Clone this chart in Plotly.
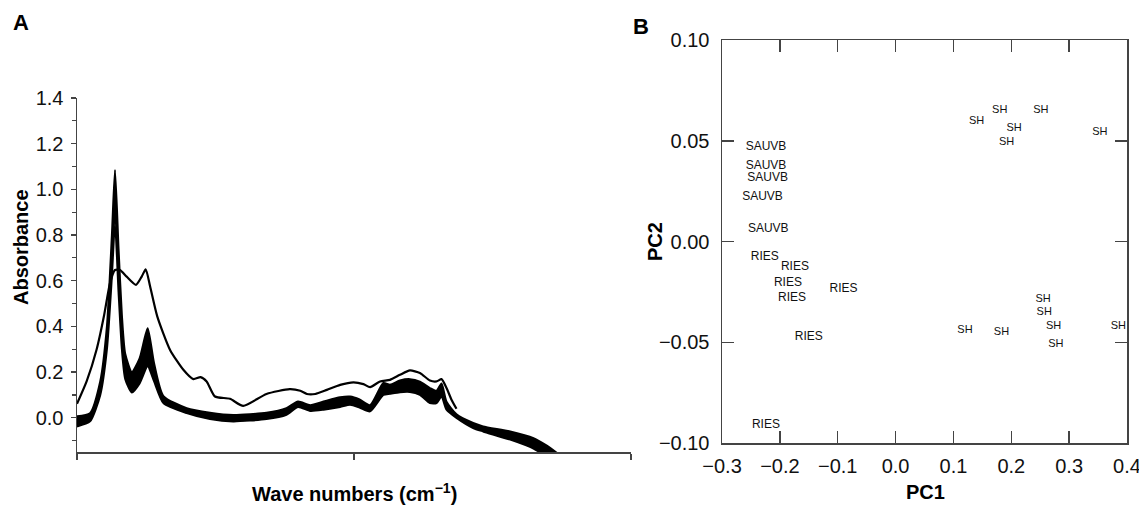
import plotly.graph_objects as go

# ---------------- Panel A data (relative wavenumber position 0-100) ----------------
band_x = [0, 2.35, 4.2, 5.4, 6.3, 6.86, 7.5, 8.1, 8.7, 9.9, 11.3, 12.75, 13.9, 15.6,
          19.8, 24, 28.2, 34.2, 37.8, 39.9, 42.1, 44.5, 47.5, 49.3, 51, 52.9, 55.3,
          56.5, 58.3, 60.1, 61.9, 63.7, 64.9, 65.8, 66.7, 68.5, 71.5, 73.3, 78.2,
          82.4, 84.8, 87.5]
band_upper = [0.006, 0.02, 0.16, 0.40, 0.80, 1.085, 0.74, 0.45, 0.28, 0.20, 0.26, 0.392,
              0.24, 0.095, 0.042, 0.022, 0.012, 0.022, 0.042, 0.071, 0.055, 0.071, 0.09,
              0.093, 0.08, 0.055, 0.152, 0.145, 0.163, 0.169, 0.158, 0.13, 0.118, 0.15,
              0.07, 0.015, -0.023, -0.038, -0.06, -0.089, -0.122, -0.17]
band_lower = [-0.038, -0.016, 0.10, 0.30, 0.62, 0.85, 0.55, 0.30, 0.17, 0.11, 0.15, 0.225,
              0.16, 0.064, 0.02, -0.006, -0.016, -0.006, 0.013, 0.047, 0.03, 0.035, 0.047,
              0.057, 0.045, 0.028, 0.10, 0.105, 0.112, 0.113, 0.10, 0.064, 0.064, 0.093,
              0.035, -0.001, -0.045, -0.06, -0.096, -0.135, -0.17, -0.2]

thin_x = [0, 1.75, 3.55, 4.9, 5.96, 6.86, 7.76, 8.97, 10.65, 11.68, 12.4, 13.2, 14.5,
          16.8, 19.2, 21, 22.3, 23.4, 24.9, 27.6, 30, 34.2, 38.4, 40.3, 41.5, 43, 45.1,
          47.5, 49.9, 51.7, 52.9, 54.7, 56.5, 58.3, 60.1, 61.9, 63.7, 64.9, 65.8, 66.7,
          67.6, 68.5]
thin_y = [0.061, 0.16, 0.30, 0.45, 0.59, 0.647, 0.647, 0.618, 0.582, 0.618, 0.650, 0.575,
          0.443, 0.297, 0.21, 0.169, 0.178, 0.159, 0.093, 0.083, 0.052, 0.104, 0.125,
          0.118, 0.104, 0.104, 0.122, 0.144, 0.155, 0.147, 0.134, 0.159, 0.166, 0.188,
          0.207, 0.196, 0.163, 0.159, 0.169, 0.13, 0.079, 0.039]

absorb_ticks = [0.0, 0.2, 0.4, 0.6, 0.8, 1.0, 1.2, 1.4]

# ---------------- Panel B data (PCA scores) ----------------
sauvb_pc1 = [-0.224, -0.224, -0.221, -0.230, -0.220]
sauvb_pc2 = [0.047, 0.0376, 0.0314, 0.0219, 0.0064]

ries_pc1 = [-0.226, -0.174, -0.186, -0.179, -0.090, -0.150, -0.224]
ries_pc2 = [-0.0078, -0.0125, -0.0208, -0.0279, -0.0234, -0.0472, -0.0911]

sh_pc1 = [0.140, 0.180, 0.205, 0.192, 0.251, 0.353,
          0.255, 0.257, 0.273, 0.277, 0.120, 0.183, 0.385]
sh_pc2 = [0.0598, 0.0649, 0.0562, 0.0495, 0.0649, 0.0543,
          -0.0285, -0.0351, -0.0419, -0.0510, -0.0439, -0.0448, -0.0419]

pc1_ticks = [-0.3, -0.2, -0.1, 0.0, 0.1, 0.2, 0.3, 0.4]
pc2_ticks = [-0.10, -0.05, 0.00, 0.05, 0.10]

W, H = 1139, 510
FONT = "Liberation Sans, Arial, sans-serif"
AX = "#444444"
TICKFONT = dict(size=20, color="#111")
TITLEFONT = dict(size=20, color="black")

fig = go.Figure()

# band (many overlapping spectra)
fig.add_trace(go.Scatter(x=band_x, y=band_lower, mode="lines",
                         line=dict(color="black", width=2, shape="spline", smoothing=0.6),
                         xaxis="x", yaxis="y", showlegend=False, hoverinfo="skip"))
fig.add_trace(go.Scatter(x=band_x, y=band_upper, mode="lines", fill="tonexty",
                         fillcolor="black",
                         line=dict(color="black", width=2, shape="spline", smoothing=0.6),
                         xaxis="x", yaxis="y", showlegend=False, hoverinfo="skip"))
# single spectrum
fig.add_trace(go.Scatter(x=thin_x, y=thin_y, mode="lines",
                         line=dict(color="black", width=2.2, shape="spline", smoothing=0.6),
                         xaxis="x", yaxis="y", showlegend=False, hoverinfo="skip"))

# PCA score labels
fig.add_trace(go.Scatter(x=sauvb_pc1, y=sauvb_pc2, mode="text", text=["SAUVB"] * len(sauvb_pc1),
                         textfont=dict(family=FONT, size=12, color="#111"),
                         xaxis="x2", yaxis="y2", showlegend=False))
fig.add_trace(go.Scatter(x=ries_pc1, y=ries_pc2, mode="text", text=["RIES"] * len(ries_pc1),
                         textfont=dict(family=FONT, size=12, color="#111"),
                         xaxis="x2", yaxis="y2", showlegend=False))
fig.add_trace(go.Scatter(x=sh_pc1, y=sh_pc2, mode="text", text=["SH"] * len(sh_pc1),
                         textfont=dict(family=FONT, size=11, color="#111"),
                         xaxis="x2", yaxis="y2", showlegend=False))

def px_x(p):
    return p / W

def px_y(p):
    return 1 - p / H

fig.update_layout(
    template="none",
    width=W, height=H, autosize=False,
    margin=dict(l=0, r=0, t=0, b=0, pad=0),
    paper_bgcolor="white", plot_bgcolor="white",
    font=dict(family=FONT, color="#111"),
    xaxis=dict(domain=[px_x(77), px_x(631)], range=[0, 100], automargin=False,
               tickvals=[0, 50, 100], showticklabels=False, ticks="outside", ticklen=6,
               tickcolor=AX, tickwidth=1.5,
               showline=True, linecolor=AX, linewidth=1.5, showgrid=False, zeroline=False,
               anchor="y"),
    yaxis=dict(domain=[px_y(452), px_y(98)], range=[-0.15, 1.4], automargin=False,
               tickvals=absorb_ticks, ticktext=[f"{v:.1f}" for v in absorb_ticks],
               ticks="outside", ticklen=5, tickcolor=AX, tickwidth=1.5,
               tickfont=TICKFONT, ticklabelstandoff=3,
               minor=dict(tickvals=[-0.1, 0.1, 0.3, 0.5, 0.7, 0.9, 1.1, 1.3], ticks="outside",
                          ticklen=4, tickcolor=AX, tickwidth=1.2, showgrid=False),
               showline=True, linecolor=AX, linewidth=1.5, showgrid=False, zeroline=False,
               anchor="x"),
    xaxis2=dict(domain=[px_x(722), px_x(1127)], range=[-0.3, 0.4], automargin=False,
                tickvals=pc1_ticks, ticktext=[f"{v:.1f}".replace("-", "\u2212") for v in pc1_ticks],
                ticks="inside", ticklen=12, tickcolor=AX, tickwidth=1.5,
                tickfont=TICKFONT, mirror="ticks", ticklabelstandoff=4,
                ticklabeloverflow="allow",
                showline=True, linecolor=AX, linewidth=1.5, showgrid=False, zeroline=False,
                anchor="y2"),
    yaxis2=dict(domain=[px_y(443), px_y(40)], range=[-0.10, 0.10], automargin=False,
                tickvals=pc2_ticks, ticktext=[f"{v:.2f}".replace("-", "\u2212") for v in pc2_ticks],
                ticks="inside", ticklen=12, tickcolor=AX, tickwidth=1.5,
                tickfont=TICKFONT, mirror="ticks", ticklabelstandoff=7,
                ticklabeloverflow="allow",
                showline=True, linecolor=AX, linewidth=1.5, showgrid=False, zeroline=False,
                anchor="x2"),
    annotations=[
        dict(text="<b>A</b>", x=px_x(21), y=px_y(23), xref="paper", yref="paper",
             showarrow=False, font=dict(size=22, color="black"), xanchor="center", yanchor="middle"),
        dict(text="<b>B</b>", x=px_x(641), y=px_y(26), xref="paper", yref="paper",
             showarrow=False, font=dict(size=22, color="black"), xanchor="center", yanchor="middle"),
        dict(text="<b>Absorbance</b>", x=px_x(21), y=px_y(247), xref="paper", yref="paper",
             showarrow=False, textangle=-90, font=TITLEFONT,
             xanchor="center", yanchor="middle"),
        dict(text="<b>Wave numbers (cm<sup>\u22121</sup>)</b>", x=px_x(354), y=px_y(492),
             xref="paper", yref="paper", showarrow=False, font=TITLEFONT,
             xanchor="center", yanchor="middle"),
        dict(text="<b>PC2</b>", x=px_x(655), y=px_y(242), xref="paper", yref="paper",
             showarrow=False, textangle=-90, font=TITLEFONT,
             xanchor="center", yanchor="middle"),
        dict(text="<b>PC1</b>", x=px_x(925), y=px_y(492), xref="paper", yref="paper",
             showarrow=False, font=TITLEFONT,
             xanchor="center", yanchor="middle"),
    ],
)

# remove the default page margin so the figure fills the window exactly
fig.write_html("out.html",
               config={"displayModeBar": False, "staticPlot": True},
               post_script="document.body.style.margin='0';document.body.style.overflow='hidden';")
